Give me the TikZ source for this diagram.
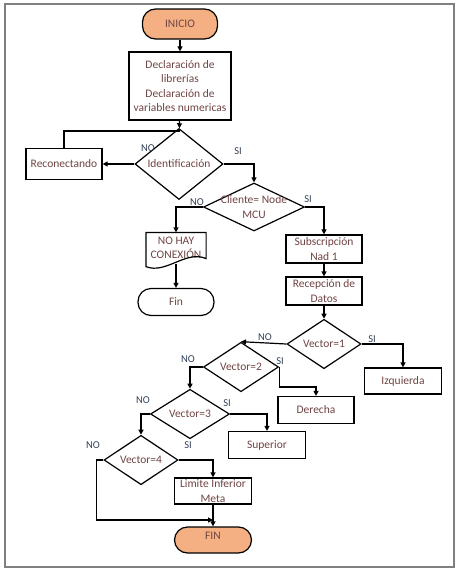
\documentclass[tikz,border=0pt]{standalone}
\usepackage{fontspec}
\setmainfont{Carlito}
\usetikzlibrary{shapes.geometric,arrows.meta,calc}
\definecolor{salmon}{RGB}{244,175,130}
\definecolor{boxtext}{RGB}{112,68,68}
\definecolor{yesno}{RGB}{50,64,86}
\definecolor{framegray}{RGB}{128,128,128}

\begin{document}
\begin{tikzpicture}[x=1pt,y=-1pt,
  line width=1.2pt,
  >={Triangle[length=5pt,width=5pt]},
  txt/.style={text=boxtext,font=\fontsize{11.5}{14.5}\selectfont,align=center},
  proc/.style={txt,draw,fill=white,inner sep=1pt},
  term/.style={txt,draw,rounded corners=13pt,inner sep=1pt},
  decision/.style={txt,draw,diamond,inner sep=0pt},
  answer/.style={text=yesno,font=\fontsize{10.5}{12}\selectfont}]
  \useasboundingbox (0,0) rectangle (461,576);
  \draw[framegray,line width=1.5pt] (5,4) rectangle (454,567);

  % start and set-up
  \node[term,fill=salmon,minimum width=75,minimum height=30] (inicio) at (180,24) {INICIO};
  \node[proc,minimum width=102,minimum height=68] (decl) at (180,86) {Declaración de\\librerías\\Declaración de\\variables numericas};
  \node[decision,minimum width=88,minimum height=45] (ident) at (179,164) {Identificación};
  \node[proc,minimum width=76,minimum height=31] (recon) at (64,164) {Reconectando};
  \coordinate (j1) at (180,131);

  % client check
  \node[decision,minimum width=101,minimum height=48,
    label={[txt]center:Cliente= Node\\MCU}] (cliente) at (254,207) {};
  \node[txt,minimum width=59,minimum height=30] (nohay) at (176,248) {NO HAY\\CONEXIÓN};
  \draw (nohay.north west) -- (nohay.north east) -- ([yshift=5pt]nohay.south east)
    .. controls +(-20,-9) and +(20,8) .. ([yshift=-3pt]nohay.south west) -- cycle;
  \node[term,fill=white,minimum width=76,minimum height=27] (fin1) at (176,302) {Fin};
  \node[proc,minimum width=76,minimum height=28] (subs) at (324,249) {Subscripción\\Nad 1};
  \node[proc,minimum width=76,minimum height=28] (recep) at (324,291) {Recepción de\\Datos};

  % vector cases
  \node[decision,minimum width=74,minimum height=45] (v1) at (324,344) {Vector=1};
  \node[proc,minimum width=77,minimum height=26] (izq) at (403,381) {Izquierda};
  \node[decision,minimum width=75,minimum height=46] (v2) at (241,367) {Vector=2};
  \node[proc,minimum width=76,minimum height=27] (der) at (316,410) {Derecha};
  \node[decision,minimum width=79,minimum height=45] (v3) at (190,414) {Vector=3};
  \node[proc,minimum width=77,minimum height=27] (sup) at (267,445) {Superior};
  \node[decision,minimum width=74,minimum height=45] (v4) at (141,460) {Vector=4};
  \node[proc,minimum width=77,minimum height=26] (lim) at (213,491) {Limite Inferior\\Meta};
  \node[term,fill=salmon,minimum width=77,minimum height=26,text depth=9pt] (fin2) at (213,540) {FIN};
  \coordinate (j2) at (213,520);

  % connectors
  \draw[->] (inicio) -- (decl);
  \draw[->] (decl) -- (ident);
  \draw (recon.north) |- (j1);
  \draw[->] (ident.west) -- (recon.east);
  \draw[->] (ident.east) -| (cliente.north);
  \draw[->] (cliente.west) -| (nohay.north);
  \draw[->] (nohay.south) -- (fin1.north);
  \draw[->] (cliente.east) -| (subs.north);
  \draw[->] (subs) -- (recep);
  \draw[->] (recep) -- (v1);
  \draw[->] (v1.east) -| (izq.north);
  \draw[->] (v1.west) -- (v2.north);
  \draw[->] (v2.east) -- ++(0,20) -| (der.north);
  \draw[->] (v2.west) -| (v3.north);
  \draw[->] (v3.east) -| (sup.north);
  \draw[->] (v3.west) -| (v4.north);
  \draw[->] (v4.east) -| (lim.north);
  \draw[->] (v4.west) -- ++(-7,0) |- (j2);
  \draw[->] (lim) -- (fin2);

  % answers
  \node[answer] (n1) at (148,148) {NO};
  \node[answer] (s1) at (238,151) {SI};
  \node[answer] (n2) at (197,202) {NO};
  \node[answer] (s2) at (308,199) {SI};
  \node[answer] (n3) at (265,337) {NO};
  \node[answer] (s3) at (372,339) {SI};
  \node[answer] (n4) at (188,359) {NO};
  \node[answer] (s4) at (280,361) {SI};
  \node[answer] (n5) at (143,400) {NO};
  \node[answer] (s5) at (227,403) {SI};
  \node[answer] (n6) at (93,445) {NO};
  \node[answer] (s6) at (188,445) {SI};
\end{tikzpicture}
\end{document}
